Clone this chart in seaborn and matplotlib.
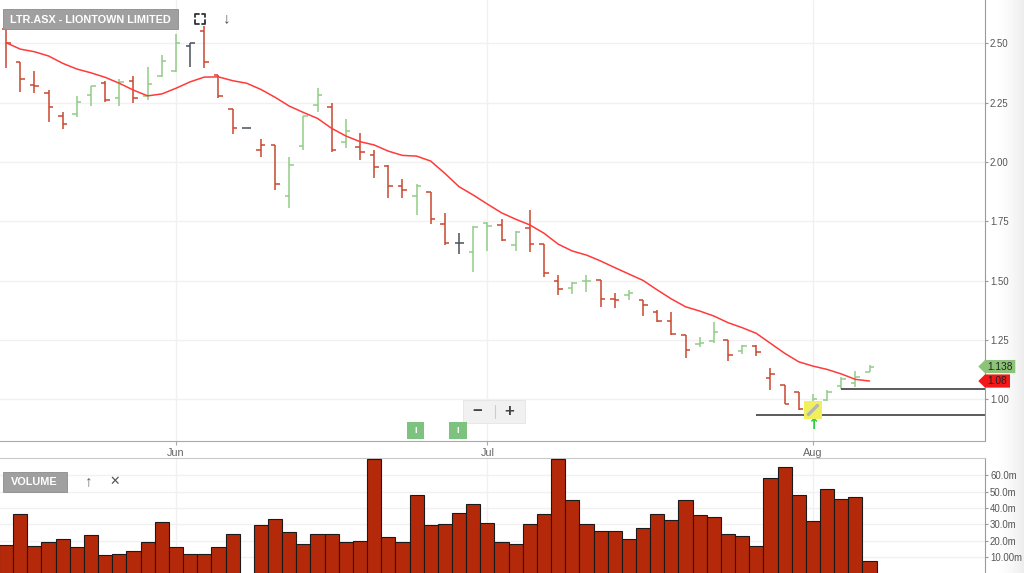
import numpy as np
import pandas as pd
import matplotlib.pyplot as plt
import matplotlib.patches as mpatches
import matplotlib.lines as mlines
import seaborn as sns

# %%
# values, one entry per trading day (slot 17 is the holiday)
opens = [2.560, 2.422, 2.325, 2.291, 2.193, 2.203, 2.281, 2.334, 2.270, 2.343,
         2.277, 2.362, 2.383, 2.488, 2.552, 2.365, 2.224, 2.144, 2.052, 2.073,
         1.855, 2.069, 2.242, 2.232, 2.083, 2.062, 2.031, 1.984, 1.900, 1.855,
         1.872, 1.739, 1.658, 1.620, 1.745, 1.735, 1.651, 1.720, 1.655, 1.499,
         1.470, 1.497, 1.503, 1.422, 1.438, 1.417, 1.368, 1.330, 1.270, 1.231,
         1.246, 1.249, 1.204, 1.224, 1.090, 1.059, 1.031, 0.968, 0.996, 1.055,
         1.069, 1.115]
highs = [2.560, 2.422, 2.383, 2.302, 2.210, 2.280, 2.322, 2.343, 2.352, 2.362,
         2.401, 2.450, 2.538, 2.503, 2.573, 2.365, 2.224, 2.144, 2.097, 2.073,
         2.021, 2.196, 2.310, 2.249, 2.182, 2.122, 2.049, 1.989, 1.929, 1.908,
         1.872, 1.784, 1.700, 1.731, 1.749, 1.759, 1.711, 1.798, 1.655, 1.524,
         1.496, 1.524, 1.503, 1.446, 1.462, 1.420, 1.378, 1.369, 1.270, 1.261,
         1.327, 1.252, 1.228, 1.228, 1.134, 1.062, 1.031, 1.024, 1.038, 1.094,
         1.120, 1.144]
lows = [2.397, 2.296, 2.289, 2.169, 2.139, 2.190, 2.238, 2.253, 2.238, 2.249,
        2.263, 2.359, 2.380, 2.400, 2.397, 2.270, 2.120, 2.144, 2.021, 1.883,
        1.806, 2.052, 2.211, 2.042, 2.059, 2.010, 1.932, 1.848, 1.848, 1.777,
        1.739, 1.651, 1.613, 1.538, 1.627, 1.669, 1.627, 1.620, 1.514, 1.439,
        1.445, 1.453, 1.390, 1.383, 1.417, 1.350, 1.327, 1.270, 1.176, 1.221,
        1.238, 1.162, 1.190, 1.182, 1.038, 0.979, 0.956, 0.961, 0.993, 1.045,
        1.052, 1.115]
closes = [2.500, 2.352, 2.322, 2.231, 2.162, 2.252, 2.319, 2.263, 2.336, 2.270,
          2.331, 2.425, 2.503, 2.503, 2.422, 2.277, 2.144, 2.144, 2.070, 1.907,
          1.986, 2.193, 2.284, 2.049, 2.132, 2.041, 1.981, 1.900, 1.883, 1.900,
          1.759, 1.658, 1.658, 1.726, 1.732, 1.672, 1.707, 1.655, 1.531, 1.463,
          1.490, 1.500, 1.421, 1.418, 1.446, 1.396, 1.329, 1.274, 1.209, 1.238,
          1.284, 1.186, 1.224, 1.200, 1.106, 0.982, 0.961, 1.003, 1.031, 1.087,
          1.095, 1.138]
prev_close = 2.56

moving_avg = [2.503, 2.476, 2.465, 2.447, 2.416, 2.392, 2.376, 2.357, 2.332, 2.303,
              2.279, 2.287, 2.311, 2.338, 2.358, 2.359, 2.343, 2.332, 2.306, 2.273,
              2.236, 2.209, 2.184, 2.142, 2.110, 2.086, 2.072, 2.046, 2.028, 2.025,
              2.004, 1.952, 1.896, 1.861, 1.823, 1.786, 1.759, 1.735, 1.700, 1.654,
              1.625, 1.608, 1.583, 1.555, 1.528, 1.501, 1.461, 1.423, 1.390, 1.372,
              1.351, 1.323, 1.302, 1.278, 1.236, 1.194, 1.158, 1.140, 1.126, 1.107,
              1.084, 1.077]

volume_m = [17.3, 36.6, 16.9, 19.1, 21.2, 16.3, 23.4, 11.2, 11.8, 14.0,
            19.1, 31.5, 16.3, 11.8, 11.8, 16.3, 24.0, 0.0, 29.5, 33.4,
            25.2, 17.9, 24.0, 24.0, 19.1, 19.7, 69.8, 22.4, 19.5, 47.8,
            29.5, 30.1, 37.2, 42.7, 31.1, 19.5, 17.9, 30.1, 36.6, 70.1,
            44.9, 30.1, 26.0, 26.0, 21.2, 27.9, 36.2, 32.9, 44.9, 35.6,
            34.4, 24.0, 22.8, 16.9, 58.2, 65.2, 47.8, 32.1, 51.5, 45.4,
            46.6, 7.9]

month_labels = ['Jun', 'Jul', 'Aug']
month_start_idx = [12, 34, 57]
price_ticks = [1.00, 1.25, 1.50, 1.75, 2.00, 2.25, 2.50]
vol_ticks = [10, 20, 30, 40, 50, 60]
vol_tick_labels = ['10.00m', '20.0m', '30.0m', '40.0m', '50.0m', '60.0m']
support_levels = [1.043, 0.934]
support_from_idx = [59, 53]
event_idx = [29, 32]
signal_idx = 57
title = 'LTR.ASX - LIONTOWN LIMITED'

# %%
df = pd.DataFrame({'idx': np.arange(len(closes)), 'open': opens, 'high': highs,
                   'low': lows, 'close': closes, 'ma': moving_avg, 'volume': volume_m})
prev = np.array([prev_close] + closes[:-1])
df['dir'] = np.sign(np.round(df['close'].to_numpy() - prev, 4)).astype(int)
dir_colors = {1: '#92cc88', -1: '#c9472f', 0: '#4a5158'}
bar_colors = df['dir'].map(dir_colors).tolist()

sns.set_style('white')
plt.rcParams['font.family'] = ['Liberation Sans', 'DejaVu Sans']

W, H = 1024, 573
fig = plt.figure(figsize=(W / 100, H / 100), dpi=100)


def fx(x):
    return x / W


def fy(y):
    return 1 - y / H


PLOT_R = 984.5
PRICE_B = 441.3
VOL_T = 458.3
XLIM = (-0.431, 69.12)
YLIM = (0.823, 2.683)

ax = fig.add_axes([0, fy(PRICE_B), fx(PLOT_R), PRICE_B / H])
axv = fig.add_axes([0, 0, fx(PLOT_R), (H - VOL_T) / H])

# scrollbar strip on the right
gax = fig.add_axes([fx(996), 0, fx(28), 1], zorder=-1)
gax.imshow(np.linspace(0, 1, 50)[None, :] ** 1.5, aspect='auto', cmap='Greys',
           vmin=0, vmax=7, extent=(0, 1, 0, 1))
gax.axis('off')

# %%
# price panel: OHLC bars + moving average
ax.vlines(df['idx'], df['low'], df['high'], colors=bar_colors, lw=1.1, zorder=3)
ax.hlines(df['open'], df['idx'] - 0.32, df['idx'], colors=bar_colors, lw=1.1, zorder=3)
ax.hlines(df['close'], df['idx'], df['idx'] + 0.32, colors=bar_colors, lw=1.1, zorder=3)
sns.lineplot(data=df, x='idx', y='ma', ax=ax, color='#ff3a3a', linewidth=1.1, zorder=4)

for lvl, start in zip(support_levels, support_from_idx):
    ax.hlines(lvl, start, XLIM[1], colors='#5a5a5a', lw=1.4, zorder=4)

ax.set_xlim(*XLIM)
ax.set_ylim(*YLIM)
ax.set_xticks(month_start_idx)
ax.set_xticklabels(month_labels)
ax.set_yticks(price_ticks)
ax.set_yticklabels([f'{t:.2f}' for t in price_ticks])
ax.yaxis.tick_right()
ax.set_xlabel('')
ax.set_ylabel('')
ax.grid(True, color='#f1f1f1', lw=1)
ax.set_axisbelow(True)
ax.tick_params(axis='y', right=True, left=False, length=2.5, width=0.8, color='#999999',
               labelsize=6.9, labelcolor='#555555', pad=1.5)
ax.tick_params(axis='x', bottom=True, length=3, width=0.8, color='#aaaaaa',
               labelsize=7.8, labelcolor='#666666', pad=1.5)
for s in ['left', 'top']:
    ax.spines[s].set_visible(False)
ax.spines['bottom'].set_color('#a8a8a8')
ax.spines['right'].set_color('#9a9a9a')

# %%
# volume panel
sns.barplot(data=df, x='idx', y='volume', ax=axv, color='#b5290b', saturation=1,
            edgecolor='#1a1a1a', linewidth=0.8, width=1.0, errorbar=None, zorder=3)
axv.set_xlim(*XLIM)
axv.set_ylim(0.4, 70.4)
axv.set_xticks(month_start_idx)
axv.set_xticklabels([])
axv.set_yticks(vol_ticks)
axv.set_yticklabels(vol_tick_labels)
axv.yaxis.tick_right()
axv.set_xlabel('')
axv.set_ylabel('')
axv.grid(True, color='#f1f1f1', lw=1)
axv.set_axisbelow(True)
axv.tick_params(axis='y', right=True, left=False, length=2.5, width=0.8, color='#999999',
                labelsize=6.9, labelcolor='#555555', pad=1.5)
axv.tick_params(axis='x', bottom=False, length=0)
for s in ['left', 'bottom']:
    axv.spines[s].set_visible(False)
axv.spines['top'].set_color('#c8c8c8')
axv.spines['right'].set_color('#9a9a9a')


# %%
# chart furniture
def idx_px(i):
    return (i - XLIM[0]) / (XLIM[1] - XLIM[0]) * PLOT_R


def price_px(p):
    return PRICE_B * (YLIM[1] - p) / (YLIM[1] - YLIM[0])


def box(x0, y0, x1, y1, fc, ec='none', lw=0.6, z=5):
    fig.add_artist(mpatches.Rectangle((fx(x0), fy(y1)), fx(x1 - x0), (y1 - y0) / H,
                                      transform=fig.transFigure, fc=fc, ec=ec, lw=lw, zorder=z))


def label(x, y, s, **kw):
    fig.text(fx(x), fy(y), s, ha='center', va='center', **kw)


box(3.3, 9.3, 178.3, 29.3, '#a0a0a0', '#8c8c8c')
label(90.8, 19.6, title, color='white', fontsize=7.8, fontweight='bold', zorder=6)

# fullscreen icon
cx, cy, hs, leg = 200.3, 18.7, 5.0, 3.3
for sx in (-1, 1):
    for sy in (-1, 1):
        x0, y0 = cx + sx * hs, cy + sy * hs
        fig.add_artist(mlines.Line2D([fx(x0), fx(x0), fx(x0 - sx * leg)],
                                     [fy(y0 - sy * leg), fy(y0), fy(y0)],
                                     transform=fig.transFigure, color='#333333', lw=1.3))
label(227, 18.5, '↓', color='#555555', fontsize=11)

box(2.7, 471.7, 66.7, 491.7, '#a0a0a0', '#8c8c8c')
label(34.7, 482, 'VOLUME', color='white', fontsize=7.8, fontweight='bold', zorder=6)
label(88.7, 481.5, '↑', color='#666666', fontsize=11)
label(115, 481.5, '✕', color='#555555', fontsize=9)

# zoom control
box(462.7, 400, 525, 423.3, '#f1f1f1', '#e4e4e4')
fig.add_artist(mlines.Line2D([fx(495), fx(495)], [fy(405), fy(418)],
                             transform=fig.transFigure, color='#cccccc', lw=0.8, zorder=6))
label(477.7, 411.3, '−', color='#444444', fontsize=12, fontweight='bold', zorder=6)
label(509.3, 411.3, '+', color='#444444', fontsize=12, fontweight='bold', zorder=6)

# event flags
for i in event_idx:
    xc = idx_px(i) - 1
    box(xc - 8.8, 421.7, xc + 8.8, 439, '#7dc37f')
    label(xc, 430.5, 'I', color='white', fontsize=6.5, fontweight='bold', zorder=6)

# signal marker
xs = idx_px(signal_idx)
box(xs - 9.2, 401, xs + 9.2, 419.3, '#f0f05c')
fig.add_artist(mlines.Line2D([fx(xs - 4.5), fx(xs + 4.5)], [fy(414.5), fy(405.5)],
                             transform=fig.transFigure, color='#b5b5b5', lw=2.4, zorder=6))
label(xs, 424.5, '↑', color='#2ecc40', fontsize=10.5, fontweight='bold',
      family=['DejaVu Sans'])


# last price tags
def tag(p, text, fc, x_end):
    yc = price_px(p)
    pts = [(978.3, yc), (985, yc - 6.6), (x_end, yc - 6.6), (x_end, yc + 6.6), (985, yc + 6.6)]
    fig.add_artist(mpatches.Polygon([(fx(x), fy(y)) for x, y in pts], closed=True,
                                    transform=fig.transFigure, fc=fc, ec='none', zorder=5))
    label((985 + x_end) / 2, yc + 0.3, text, color='#222222', fontsize=7.3, zorder=6)


tag(closes[-1], f'{closes[-1]:.3f}', '#8cc378', 1015.3)
tag(moving_avg[-1], f'{moving_avg[-1]:.2f}', '#f01818', 1010)

fig.savefig('out.png', dpi=100)
